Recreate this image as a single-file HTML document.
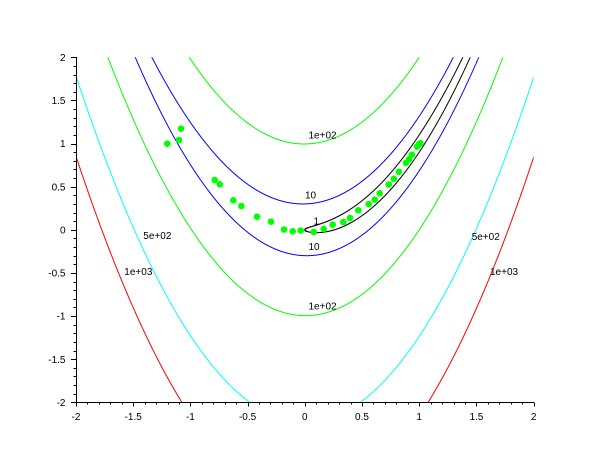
<!DOCTYPE html>
<html><head><meta charset="utf-8"><style>
html,body{margin:0;padding:0;background:#fff;}
svg{display:block;font-family:"Liberation Sans",Arial,sans-serif;}
</style></head><body>
<svg id="s" width="610" height="460" viewBox="0 0 610 460" xmlns="http://www.w3.org/2000/svg">
<rect width="610" height="460" fill="#fff"/>
<defs><clipPath id="clip"><rect x="76" y="57.3" width="457.6" height="345"/></clipPath></defs>
<g id="curves" clip-path="url(#clip)" fill="none" stroke-width="1"></g>
<g id="axes" stroke="#000" stroke-width="1" shape-rendering="crispEdges"></g>
<g id="ticklabels" font-size="10" fill="#000"></g>
<g font-size="10" fill="#000">
<text x="308.5" y="138.5">1e+02</text>
<text x="305" y="198.3">10</text>
<text x="313.5" y="224.5">1</text>
<text x="308.5" y="250">10</text>
<text x="308.5" y="309.5">1e+02</text>
<text x="143.3" y="239">5e+02</text>
<text x="124.3" y="275">1e+03</text>
<text x="471.7" y="240">5e+02</text>
<text x="490" y="275">1e+03</text>
</g>
<g id="dots" fill="#00ff00"></g>
</svg>
<script>
(function(){
var NS="http://www.w3.org/2000/svg";
function X(x){return 76+(x+2)*114.4;}
function Y(y){return 229.8-y*86.25;}
var levels=[[1000,"#ff0000"],[500,"#00ffff"],[100,"#00ff00"],[10,"#0000ff"],[1,"#000000"]];
var g=document.getElementById("curves");
levels.forEach(function(l){
  var c=l[0],r=Math.sqrt(c),N=40000,d="",pen=false;
  for(var i=0;i<=N;i++){
    var t=2*Math.PI*i/N;
    var x=1+r*Math.cos(t);
    var y=x*x+r*Math.sin(t)/10;
    if(x>=-2.2&&x<=2.2&&y>=-2.5&&y<=2.5){
      d+=(pen?"L":"M")+X(x).toFixed(2)+" "+Y(y).toFixed(2);
      pen=true;
    } else pen=false;
  }
  var p=document.createElementNS(NS,"path");
  p.setAttribute("d",d);p.setAttribute("stroke",l[1]);
  g.appendChild(p);
});
var ax=document.getElementById("axes");
function line(x1,y1,x2,y2){var e=document.createElementNS(NS,"line");
 e.setAttribute("x1",x1);e.setAttribute("y1",y1);e.setAttribute("x2",x2);e.setAttribute("y2",y2);ax.appendChild(e);}
line(76.5,57,76.5,402.5);
line(76,402.5,534,402.5);
var tl=document.getElementById("ticklabels");
function txt(x,y,s,anchor){var e=document.createElementNS(NS,"text");
 e.setAttribute("x",x);e.setAttribute("y",y);e.setAttribute("text-anchor",anchor);e.textContent=s;tl.appendChild(e);}
for(var k=0;k<=40;k++){
  var v=-2+k*0.1;
  var major=(k%5===0);
  var py=Math.round(Y(v))+0.5;
  line(major?71:73.5,py,76.5,py);
  var px=Math.round(X(v))+0.5;
  line(px,402.5,px,major?406.5:404.5);
  if(major){
    var s=(Math.round(v*10)/10).toString();
    txt(65.5,Y(v)+3.6,s,"end");
    txt(X(v),420,s,"middle");
  }
}
var pts=[[167.3,143.7],[179,140],[181,128.7],[214.7,180],[219.7,184.3],[233.3,200.3],[241.3,206],[257,216.7],[271,221.7],[284,229.5],[292.7,231.3],[300.7,230.5],[313.7,232],[323.7,229],[332.7,224.7],[343.3,222],[350,218],[358.3,210.3],[368.7,204],[374.7,199.7],[379.7,193.3],[388.7,184.5],[393.8,178.8],[398.8,171.8],[406,162.8],[409.2,159.2],[411.9,154.7],[417,146.7],[419,144.2],[420.3,143.3]];
var dg=document.getElementById("dots");
pts.forEach(function(p){var c=document.createElementNS(NS,"circle");
 c.setAttribute("cx",p[0]);c.setAttribute("cy",p[1]);c.setAttribute("r",3.3);dg.appendChild(c);});
})();
</script>
</body></html>
